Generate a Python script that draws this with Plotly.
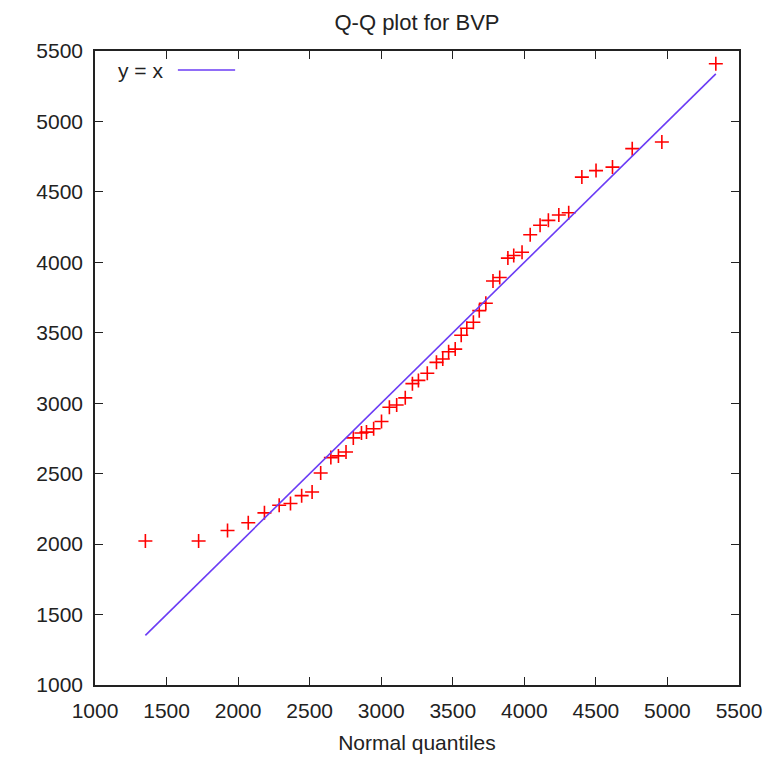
import plotly.graph_objects as go

# Data
normal_quantiles = [1352, 1724, 1926, 2071, 2184, 2287, 2366, 2444, 2517, 2577,
                    2648, 2701, 2754, 2805, 2862, 2897, 2947, 3002, 3057, 3108,
                    3168, 3218, 3260, 3322, 3386, 3430, 3471, 3517, 3559, 3598,
                    3644, 3685, 3731, 3781, 3828, 3885, 3926, 3984, 4041, 4110,
                    4168, 4241, 4310, 4402, 4501, 4616, 4754, 4961, 5338]
bvp_values = [2022, 2022, 2097, 2152, 2222, 2276, 2288, 2344, 2370, 2505,
              2614, 2626, 2654, 2754, 2789, 2795, 2819, 2870, 2971, 2987,
              3038, 3139, 3162, 3213, 3290, 3314, 3365, 3384, 3482, 3532,
              3575, 3657, 3710, 3867, 3892, 4030, 4049, 4072, 4196, 4263,
              4298, 4336, 4352, 4605, 4651, 4676, 4807, 4854, 5409]
line_x = [min(normal_quantiles), max(normal_quantiles)]
line_y = line_x
tick_vals = [1000, 1500, 2000, 2500, 3000, 3500, 4000, 4500, 5000, 5500]

FONT = "Liberation Sans, Arial, sans-serif"
LINE_COLOR = "#6b3cf5"
TEXT = "#222"

fig = go.Figure()
fig.add_trace(go.Scatter(
    x=normal_quantiles, y=bvp_values, mode="markers", name="BVP",
    marker=dict(symbol="cross-thin", size=10, color="red",
                line=dict(color="red", width=1.6)),
    showlegend=False,
))
fig.add_trace(go.Scatter(
    x=line_x, y=line_y, mode="lines", name="y = x",
    line=dict(color=LINE_COLOR, width=1.6),
    showlegend=False,
))

axis_common = dict(
    range=[1000, 5500], tickvals=tick_vals, ticks="inside", ticklen=8,
    tickwidth=1.2, tickcolor=TEXT, showline=True, linecolor=TEXT,
    linewidth=1.5, mirror="ticks", showgrid=False, zeroline=False,
    tickfont=dict(family=FONT, size=21, color=TEXT),
)

fig.update_layout(
    width=774, height=763, autosize=False,
    margin=dict(l=95, r=26, t=51, b=69),
    paper_bgcolor="white", plot_bgcolor="white",
    title=dict(text="Q-Q plot for BVP", x=0.5, xref="paper", y=0.971,
               yanchor="middle", xanchor="center",
               font=dict(family=FONT, size=22, color=TEXT)),
    xaxis=dict(**axis_common, ticklabelstandoff=6,
               title=dict(text="Normal quantiles", standoff=14,
                          font=dict(family=FONT, size=21, color=TEXT))),
    yaxis=dict(**axis_common, ticklabelstandoff=6),
    font=dict(family=FONT, size=21, color=TEXT),
)

# Key (gnuplot style: label then line sample)
fig.add_annotation(x=0.1088, y=0.970, xref="paper", yref="paper",
                   text="y = x", showarrow=False, xanchor="right",
                   yanchor="middle", font=dict(family=FONT, size=21, color=TEXT))
fig.add_shape(type="line", xref="paper", yref="paper",
              x0=0.1287, x1=0.2176, y0=0.970, y1=0.970,
              line=dict(color=LINE_COLOR, width=1.6))

fig.write_html("out.html",
               config={"displayModeBar": False, "responsive": False},
               post_script="document.body.style.margin='0';"
                           "document.body.style.padding='0';"
                           "document.body.style.overflow='hidden';")
